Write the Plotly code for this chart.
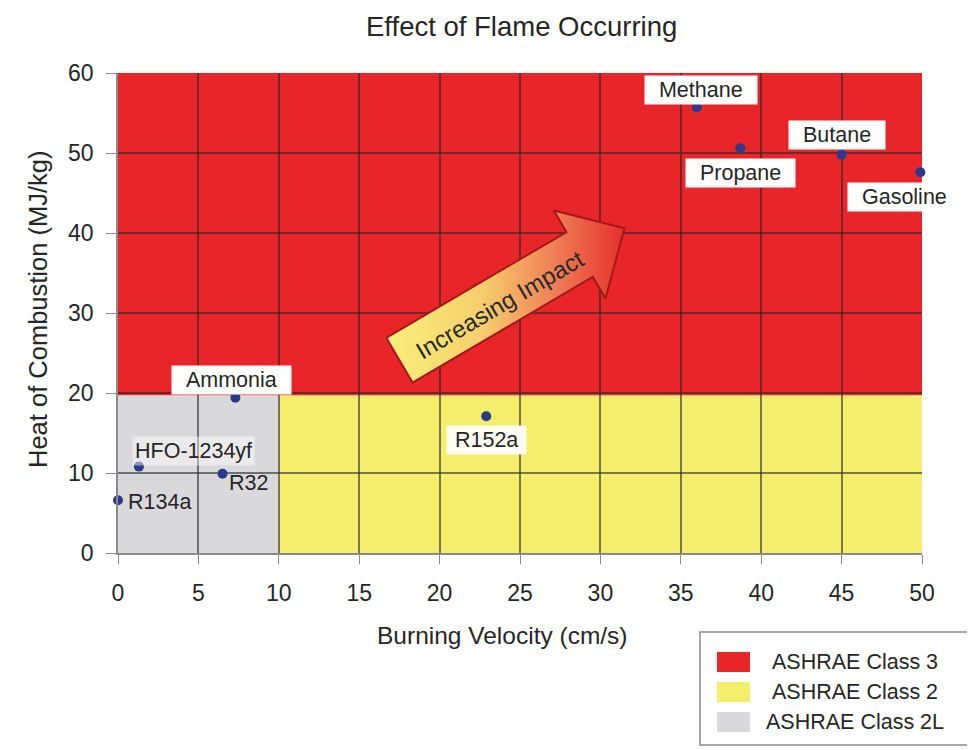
import math
import plotly.graph_objects as go

# ---------------- data ----------------
substances = ["Methane", "Propane", "Butane", "Gasoline", "Ammonia",
              "HFO-1234yf", "R32", "R134a", "R152a"]
burning_velocity = [36.0, 38.7, 45.0, 49.9, 7.3, 1.3, 6.5, 0.0, 22.9]   # cm/s
heat_of_combustion = [55.7, 50.6, 49.8, 47.6, 19.4, 10.8, 9.9, 6.6, 17.1]  # MJ/kg

classes = ["ASHRAE Class 3", "ASHRAE Class 2", "ASHRAE Class 2L"]
class_x0 = [0, 10, 0]
class_x1 = [50, 50, 10]
class_y0 = [19.7, 0, 0]
class_y1 = [60, 19.7, 19.7]

x_ticks = [0, 5, 10, 15, 20, 25, 30, 35, 40, 45, 50]
y_ticks = [0, 10, 20, 30, 40, 50, 60]

# arrow (in data units): tail centre and tip
arrow_tail = (17.5, 24.1)
arrow_tip = (31.5, 40.6)
arrow_text = "Increasing Impact"

# ---------------- style ----------------
OFF = 8                      # page body margin
W, H = 975 - OFF, 750 - OFF
L, T = 118 - OFF, 73 - OFF
pw, ph = 804, 480
R, B = W - L - pw, H - T - ph
FONT = "Liberation Sans, Arial, sans-serif"
TXT = "#262626"
class_colors = ["#E8262A", "#F4EE6C", "#D9D9DB"]

# label offsets (px) and box backgrounds
lab_dx = [4, 0, -5, -16, -4, 55, 26, 41, 0]
lab_dy = [17, -25, 20, -25, 18, 16, -9, -2, -24]
lab_bg = ["white", "white", "white", "white", "white",
          "rgba(255,255,255,0.45)", "rgba(0,0,0,0)", "rgba(0,0,0,0)", "#FFFDF0"]
lab_pad = [2, 2, 2, 2, 2, 0, 0, 0, 1]

xr = [0, 50]
yr = [0, 60]
sx = pw / (xr[1] - xr[0])
sy = ph / (yr[1] - yr[0])


def px2paper_x(p):   # screen px (reference coords) -> paper
    return (p - OFF - L) / pw


def px2paper_y(p):
    return (T + ph - (p - OFF)) / ph


fig = go.Figure()

# class regions
shapes = []
for i, c in enumerate(classes):
    shapes.append(dict(type="rect", xref="x", yref="y", layer="below",
                       x0=class_x0[i], x1=class_x1[i], y0=class_y0[i], y1=class_y1[i],
                       fillcolor=class_colors[i], line=dict(width=0)))

# arrow polygon (built in screen pixels, converted to data units)
dxp = (arrow_tip[0] - arrow_tail[0]) * sx
dyp = (arrow_tip[1] - arrow_tail[1]) * sy
length = math.hypot(dxp, dyp)
ux, uy = dxp / length, dyp / length
vx, vy = uy, -ux
half_shaft, half_head, head_len = 26, 51, 52
pts = [(0, -half_shaft), (length - head_len, -half_shaft), (length - head_len, -half_head),
       (length, 0), (length - head_len, half_head), (length - head_len, half_shaft),
       (0, half_shaft), (0, -half_shaft)]
ax_pts = [arrow_tail[0] + (a * ux + p * vx) / sx for a, p in pts]
ay_pts = [arrow_tail[1] + (a * uy + p * vy) / sy for a, p in pts]
fig.add_trace(go.Scatter(
    x=ax_pts, y=ay_pts, mode="lines", fill="toself",
    line=dict(color="#A3191B", width=2),
    fillgradient=dict(type="horizontal",
                      colorscale=[[0, "#F8F07A"], [0.4, "#F6CF6C"], [0.7, "#EF8058"], [1, "#E5302A"]]),
    hoverinfo="skip", showlegend=False, cliponaxis=False))

angle = math.degrees(math.atan2(dyp, dxp))
mid_a, mid_p = length * 0.44, 3
annotations = [dict(x=arrow_tail[0] + (mid_a * ux + mid_p * vx) / sx,
                    y=arrow_tail[1] + (mid_a * uy + mid_p * vy) / sy,
                    text=arrow_text, showarrow=False, textangle=-angle,
                    font=dict(family=FONT, size=24, color="#2a2a2a"))]

# data points
fig.add_trace(go.Scatter(x=burning_velocity, y=heat_of_combustion, mode="markers",
                         marker=dict(color="#2B3A8F", size=10),
                         cliponaxis=False, showlegend=False, hovertext=substances))

for i, s in enumerate(substances):
    pad = "\u00a0" * lab_pad[i]
    annotations.append(dict(x=burning_velocity[i], y=heat_of_combustion[i], text=pad + s + pad,
                            showarrow=False, xshift=lab_dx[i], yshift=lab_dy[i],
                            bgcolor=lab_bg[i], borderpad=2,
                            font=dict(family=FONT, size=21.5, color=TXT)))

# title & axis titles
annotations.append(dict(xref="paper", yref="paper", x=px2paper_x(521), y=px2paper_y(26),
                        text="Effect of Flame Occurring", showarrow=False,
                        xanchor="center", yanchor="middle",
                        font=dict(family=FONT, size=27.5, color=TXT)))
annotations.append(dict(xref="paper", yref="paper", x=px2paper_x(502), y=px2paper_y(635),
                        text="Burning Velocity (cm/s)", showarrow=False,
                        xanchor="center", yanchor="middle",
                        font=dict(family=FONT, size=24.5, color=TXT)))
annotations.append(dict(xref="paper", yref="paper", x=px2paper_x(38), y=px2paper_y(310),
                        text="Heat of Combustion (MJ/kg)", showarrow=False, textangle=-90,
                        xanchor="center", yanchor="middle",
                        font=dict(family=FONT, size=25.5, color=TXT)))

# manual legend box
lx0, lx1, ly0, ly1 = 700, 972, 632, 745
shapes.append(dict(type="rect", xref="paper", yref="paper",
                   x0=px2paper_x(lx0), x1=px2paper_x(lx1), y0=px2paper_y(ly1), y1=px2paper_y(ly0),
                   line=dict(color="#8a8a8a", width=1.5), fillcolor="white"))
row_y = [662, 692, 722]
for i, c in enumerate(classes):
    shapes.append(dict(type="rect", xref="paper", yref="paper",
                       x0=px2paper_x(717), x1=px2paper_x(750),
                       y0=px2paper_y(row_y[i] + 10), y1=px2paper_y(row_y[i] - 10),
                       fillcolor=class_colors[i], line=dict(width=0)))
    annotations.append(dict(xref="paper", yref="paper", x=px2paper_x(855), y=px2paper_y(row_y[i]),
                            text=c, showarrow=False, xanchor="center", yanchor="middle",
                            font=dict(family=FONT, size=21.5, color=TXT)))

fig.update_layout(
    width=W, height=H, margin=dict(l=L, r=R, t=T, b=B),
    paper_bgcolor="white", plot_bgcolor="white",
    shapes=shapes, annotations=annotations, showlegend=False,
    xaxis=dict(range=xr, tickvals=x_ticks, showgrid=True, gridcolor="rgba(40,40,40,0.6)", gridwidth=1.5,
               zeroline=False, showline=True, linecolor="#8a8a8a", linewidth=1.5,
               ticks="outside", ticklen=9, tickcolor="#8a8a8a", ticklabelstandoff=10,
               tickfont=dict(family=FONT, size=23, color=TXT)),
    yaxis=dict(range=yr, tickvals=y_ticks, showgrid=True, gridcolor="rgba(40,40,40,0.6)", gridwidth=1.5,
               zeroline=False, showline=True, linecolor="#8a8a8a", linewidth=1.5,
               ticks="outside", ticklen=10, tickcolor="#8a8a8a", ticklabelstandoff=8,
               tickfont=dict(family=FONT, size=23, color=TXT)),
)

fig.write_html("out.html")
